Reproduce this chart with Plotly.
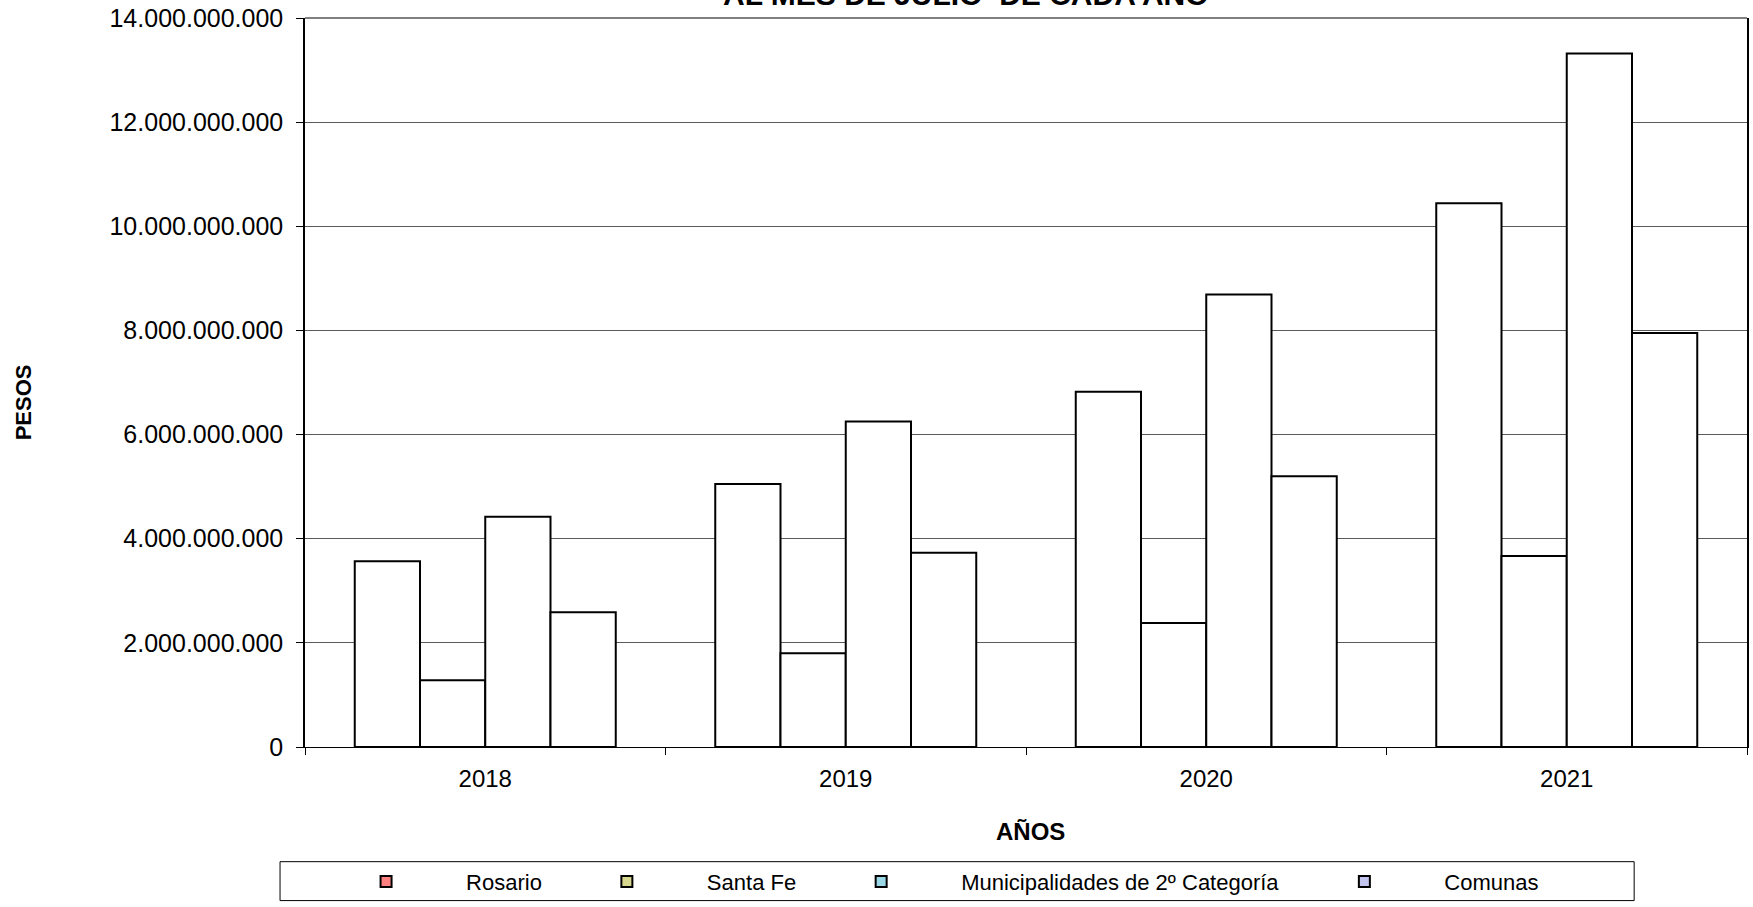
import plotly.graph_objects as go

years = ["2018", "2019", "2020", "2021"]
series_names = ["Rosario", "Santa Fe", "Municipalidades de 2º Categoría", "Comunas"]
rosario = [3.565e9, 5.05e9, 6.82e9, 10.44e9]
santa_fe = [1.28e9, 1.80e9, 2.38e9, 3.67e9]
municipalidades = [4.42e9, 6.25e9, 8.69e9, 13.32e9]
comunas = [2.59e9, 3.73e9, 5.20e9, 7.95e9]
legend_colors = ["#FF8080", "#D8D890", "#9AD8E8", "#C4C4F0"]

values = [rosario, santa_fe, municipalidades, comunas]

FONT = "Liberation Sans, Arial, sans-serif"
fig = go.Figure()

for name, vals in zip(series_names, values):
    fig.add_trace(go.Bar(
        x=years, y=vals, name=name, showlegend=False,
        marker=dict(color="white", line=dict(color="black", width=2)),
    ))

for name, col in zip(series_names, legend_colors):
    fig.add_trace(go.Scatter(
        x=[None], y=[None], mode="markers", name=name,
        marker=dict(symbol="square", size=11, color=col,
                    line=dict(color="black", width=2)),
    ))

# plot area is 1444 x 731 px
PW, PH = 1444, 731

def px(xf):
    return (xf - 305) / PW

def py(yf):
    return (748 - yf) / PH

fig.update_layout(
    width=1753, height=907, autosize=False,
    margin=dict(l=305, r=4, t=17, b=159),
    paper_bgcolor="white", plot_bgcolor="white",
    barmode="group", bargap=0.276, bargroupgap=0,
    separators=",.",
    font=dict(family=FONT, size=24, color="black"),
    showlegend=True,
    legend=dict(
        orientation="h", x=0.430, xanchor="center", y=py(883), yanchor="middle",
        itemwidth=150, font=dict(size=22, family=FONT),
        bgcolor="rgba(0,0,0,0)", borderwidth=0,
    ),
    xaxis=dict(
        type="category", showgrid=False, showline=True, linecolor="black", linewidth=1,
        ticks="outside", tickson="boundaries", ticklen=7, tickcolor="black",
        tickfont=dict(size=24), zeroline=False, ticklabelstandoff=10,
    ),
    yaxis=dict(
        range=[0, 14e9], dtick=2e9, tickformat=",d",
        showgrid=True, gridcolor="#5a5a5a", gridwidth=1,
        showline=True, linecolor="black", linewidth=1.5, mirror=True,
        ticks="outside", ticklen=7, tickcolor="black",
        tickfont=dict(size=25), zeroline=False, ticklabelstandoff=8,
    ),
    shapes=[
        dict(type="rect", xref="paper", yref="paper",
             x0=px(280), x1=px(1636), y0=py(863), y1=py(902),
             line=dict(color="black", width=1)),
        dict(type="line", xref="paper", yref="paper", x0=0, x1=1, y0=1, y1=1,
             line=dict(color="#808080", width=2)),
    ],
    annotations=[
        dict(text="<b>AL MES DE JULIO  DE CADA AÑO</b>", xref="paper", yref="paper",
             x=px(967), y=1, xanchor="center", yanchor="bottom", yshift=5,
             showarrow=False, font=dict(size=30)),
        dict(text="<b>AÑOS</b>", xref="paper", yref="paper",
             x=px(1032), y=py(833), xanchor="center", yanchor="middle",
             showarrow=False, font=dict(size=24)),
        dict(text="<b>PESOS</b>", xref="paper", yref="paper", textangle=-90,
             x=px(24), y=py(402), xanchor="center", yanchor="middle",
             showarrow=False, font=dict(size=22)),
    ],
)

fig.write_html("out.html", config={"displayModeBar": False},
               post_script="document.body.style.margin='0';")
